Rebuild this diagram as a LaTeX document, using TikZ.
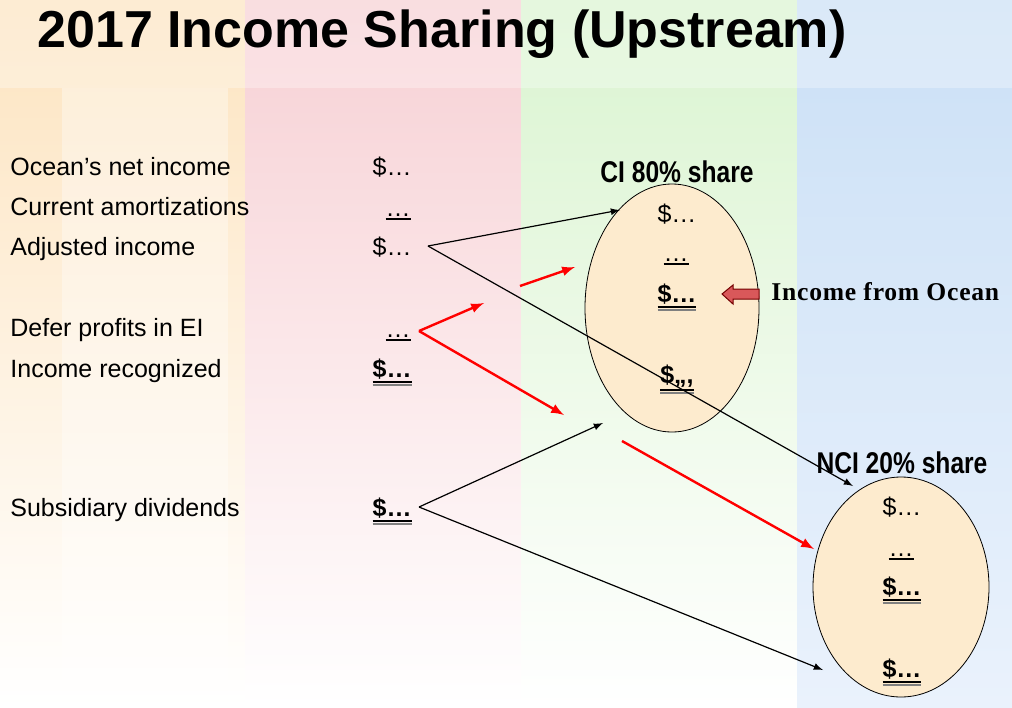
\documentclass[tikz,border=0pt]{standalone}
\usepackage{fontspec}
\setmainfont{Liberation Sans}
\newfontfamily\narrowfont[FakeStretch=0.82]{Liberation Sans}
\newfontfamily\oceanfont[LetterSpace=3]{Liberation Serif}
\usepackage{tikz}
\usetikzlibrary{shapes.geometric}

\definecolor{shareface}{HTML}{FDEBCE}
\definecolor{blockred}{HTML}{D9585A}
\definecolor{orangetop}{HTML}{FDE4C0}
\definecolor{orangemid}{HTML}{FEF0DC}
\definecolor{pinktop}{HTML}{F7D0D4}
\definecolor{pinkmid}{HTML}{FADFE2}
\definecolor{greentop}{HTML}{DAF4D0}
\definecolor{greenmid}{HTML}{EEFAEA}
\definecolor{bluetop}{HTML}{CBE0F6}
\definecolor{bluemid}{HTML}{DBE9F9}
\definecolor{bluebot}{HTML}{EAF2FC}
\newcommand{\thul}[1]{\setbox0\hbox{#1}\vtop{\copy0\kern1pt\hrule width\wd0 height 1pt}}
\newcommand{\dul}[1]{\setbox0\hbox{#1}\vtop{\copy0\kern1pt\hrule width\wd0 height 1pt\kern0.6pt\hbox{\color{gray}\rule{\wd0}{0.8pt}}}}

\begin{document}
\begin{tikzpicture}[x=0.5pt,y=-0.5pt,every node/.style={inner sep=0pt},
	font=\fontsize{12.5pt}{15pt}\selectfont]
	\useasboundingbox (0,0) rectangle (1012,707);
	% background bands
	\shade[top color=orangetop,middle color=orangemid,bottom color=white] (0,0) rectangle (245,707);
	\shade[top color=pinktop,middle color=pinkmid,bottom color=white] (245,0) rectangle (521,707);
	\shade[top color=greentop,middle color=greenmid,bottom color=white] (521,0) rectangle (797,707);
	\shade[top color=bluetop,middle color=bluemid,bottom color=bluebot] (797,0) rectangle (1012,707);
	\fill[white,opacity=0.35] (62,88) rectangle (228,707);
	\fill[white,opacity=0.3] (0,0) rectangle (1012,88);
	%
	\node[anchor=base west] (title) at (37,47) {\fontsize{26pt}{30pt}\selectfont\bfseries 2017 Income Sharing (Upstream)};
	%
	\node[anchor=base west] (netinc) at (10,175) {Ocean’s net income};
	\node[anchor=base west] (amort) at (10,215) {Current amortizations};
	\node[anchor=base west] (adjinc) at (10,255) {Adjusted income};
	\node[anchor=base west] (defer) at (10,336) {Defer profits in EI};
	\node[anchor=base west] (recog) at (10,377) {Income recognized};
	\node[anchor=base west] (subdiv) at (10,516) {Subsidiary dividends};
		\node[anchor=base east] (netv) at (412,175) {\$\ldots};
		\node[anchor=base east] (amortv) at (411,216) {\thul{\ldots}};
		\node[anchor=base east] (adjv) at (412,255) {\$\ldots};
		\node[anchor=base east] (deferv) at (411,337) {\thul{\ldots}};
		\node[anchor=base east] (recogv) at (412,377) {\bfseries\dul{\$\ldots}};
		\node[anchor=base east] (subv) at (412,516) {\bfseries\dul{\$\ldots}};
	%
	\node[ellipse,draw,fill=shareface,minimum width=87pt,minimum height=124pt] (ci) at (672,308) {};
	\node[anchor=base] (cilab) at (677,182) {\fontsize{15pt}{18pt}\narrowfont\bfseries CI 80\% share};
	\node[anchor=base] (ci1) at (677,222) {\$\ldots};
	\node[anchor=base] (ci2) at (676,261) {\thul{\ldots}};
	\node[anchor=base] (ci3) at (677,302) {\bfseries\dul{\$\ldots}};
	\node[anchor=base] (ci4) at (677,383) {\bfseries\dul{\$,,,}};
	%
	\node[ellipse,draw,fill=shareface,minimum width=88pt,minimum height=110pt] (nci) at (901,587) {};
	\node[anchor=base] (ncilab) at (902,473) {\fontsize{15pt}{18pt}\narrowfont\bfseries NCI 20\% share};
	\node[anchor=base] (nci1) at (902,515) {\$\ldots};
	\node[anchor=base] (nci2) at (901,556) {\thul{\ldots}};
	\node[anchor=base] (nci3) at (902,595) {\bfseries\dul{\$\ldots}};
	\node[anchor=base] (nci4) at (902,677) {\bfseries\dul{\$\ldots}};
	%
	\node[anchor=base west] (ocean) at (771,300) {\fontsize{12.8pt}{15pt}\oceanfont\bfseries Income from Ocean};
	\draw[fill=blockred,draw=red!45!black,line width=0.5pt] (759,289) -- (733,289) -- (733,285) -- (722,294)
		-- (733,304) -- (733,299) -- (759,299) -- cycle;
	%
	\coordinate (adjout) at (428,246);
	\coordinate (deferout) at (419,331);
	\coordinate (subout) at (419,507);
	\coordinate (citop) at (620,210);
	\coordinate (ncitop) at (853,486);
	\coordinate (ciin) at (603,423);
	\coordinate (nciin) at (823,670);
	\coordinate (redup) at (484,303);
	\coordinate (reddown) at (564,415);
	\coordinate (redastart) at (520,286);
	\coordinate (redaend) at (575,267);
	\coordinate (redbstart) at (622,441);
	\coordinate (redbend) at (814,549);
		\draw[->,>=latex,line width=0.6pt] (adjout)--(citop);
		\draw[->,>=latex,line width=0.6pt] (adjout)--(ncitop);
		\draw[->,>=latex,line width=0.6pt] (subout)--(ciin);
		\draw[->,>=latex,line width=0.6pt] (subout)--(nciin);
		\draw[->,>=latex,red,line width=1.2pt] (deferout)--(redup);
		\draw[->,>=latex,red,line width=1.2pt] (deferout)--(reddown);
		\draw[->,>=latex,red,line width=1.2pt] (redastart)--(redaend);
		\draw[->,>=latex,red,line width=1.2pt] (redbstart)--(redbend);
\end{tikzpicture}
\end{document}
